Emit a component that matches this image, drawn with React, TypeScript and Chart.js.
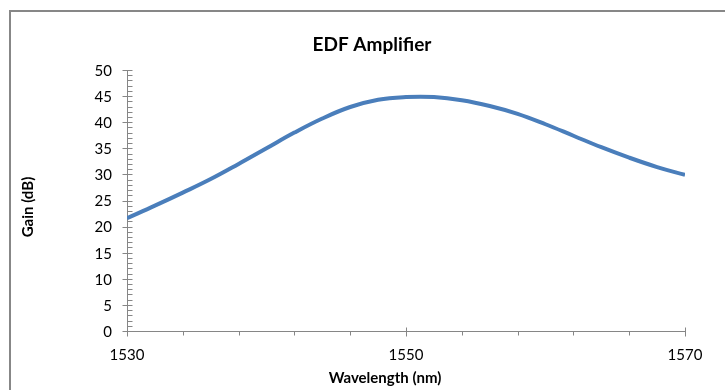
import React, { useEffect, useRef } from "react";
import { Chart, registerables } from "chart.js";

Chart.register(...registerables);

const wavelengths = [1530, 1532, 1534, 1536, 1538, 1540, 1542, 1544, 1546, 1548, 1550, 1552, 1554, 1556, 1558, 1560, 1562, 1564, 1566, 1568, 1570];
const gains = [21.8, 24.2, 26.7, 29.3, 32.2, 35.2, 38.2, 40.9, 43.1, 44.5, 45.0, 45.0, 44.4, 43.3, 41.8, 39.8, 37.6, 35.4, 33.4, 31.6, 30.1];

const xMin = 1530;
const xMax = 1570;
const xMajorStep = 20;
const xMinorStep = 4;
const yMin = 0;
const yMax = 50;
const yMajorStep = 5;
const yMinorStep = 1;

const chartTitle = "EDF Amplifier";
const xTitle = "Wavelength (nm)";
const yTitle = "Gain (dB)";

const FONT = "Lato, 'Open Sans', sans-serif";
const AXIS_COLOR = "#868686";

const decorPlugin = {
  id: "decor",
  beforeDraw(chart: any) {
    const ctx = chart.ctx;
    ctx.save();
    ctx.strokeStyle = "#878787";
    ctx.lineWidth = 2;
    ctx.beginPath();
    ctx.moveTo(10, chart.height + 5);
    ctx.lineTo(10, 11);
    ctx.lineTo(chart.width + 5, 11);
    ctx.stroke();

    ctx.fillStyle = "#000";
    ctx.textAlign = "center";
    ctx.textBaseline = "middle";
    ctx.font = `bold 19px ${FONT}`;
    ctx.fillText(chartTitle, 372, 45);
    ctx.font = `bold 15px ${FONT}`;
    ctx.fillText(xTitle, 385, 378);
    ctx.translate(28, 207);
    ctx.rotate(-Math.PI / 2);
    ctx.fillText(yTitle, 0, 0);
    ctx.restore();
  },
  beforeDatasetsDraw(chart: any) {
    const ctx = chart.ctx;
    const xs = chart.scales.x;
    const ys = chart.scales.y;
    const x0 = Math.round(xs.getPixelForValue(xMin)) + 0.5;
    const y0 = Math.round(ys.getPixelForValue(yMin)) - 0.5;
    ctx.save();
    ctx.strokeStyle = AXIS_COLOR;
    ctx.lineWidth = 1;
    ctx.beginPath();
    ctx.moveTo(x0, Math.round(ys.getPixelForValue(yMax)));
    ctx.lineTo(x0, y0);
    ctx.moveTo(x0, y0);
    ctx.lineTo(Math.round(xs.getPixelForValue(xMax)) + 0.5, y0);
    for (let v = yMin; v <= yMax; v += yMinorStep) {
      const py = Math.round(ys.getPixelForValue(v)) - 0.5;
      if (v % yMajorStep === 0) {
        ctx.moveTo(x0 - 5, py);
        ctx.lineTo(x0 + 5, py);
      } else {
        ctx.moveTo(x0, py);
        ctx.lineTo(x0 + 5, py);
      }
    }
    for (let v = xMin; v <= xMax; v += xMinorStep) {
      const px = Math.round(xs.getPixelForValue(v)) + 0.5;
      if ((v - xMin) % xMajorStep === 0) {
        ctx.moveTo(px, y0 - 4);
        ctx.lineTo(px, y0 + 5);
      } else {
        ctx.moveTo(px, y0);
        ctx.lineTo(px, y0 + 4);
      }
    }
    ctx.stroke();
    ctx.restore();
  },
};

export default function App() {
  const ref = useRef<HTMLCanvasElement | null>(null);

  useEffect(() => {
    document.body.style.margin = "0";
    const canvas = ref.current;
    if (!canvas) return;
    const chart = new Chart(canvas, {
      type: "line",
      data: {
        datasets: [
          {
            label: "Gain",
            data: wavelengths.map((w, i) => ({ x: w, y: gains[i] })),
            borderColor: "#4a7ebb",
            borderWidth: 4,
            pointRadius: 0,
            tension: 0.4,
            fill: false,
          },
        ],
      },
      options: {
        animation: false,
        responsive: false,
        maintainAspectRatio: false,
        layout: { padding: { top: 71, left: 0, right: 40, bottom: 0 } },
        plugins: {
          legend: { display: false },
          title: { display: false },
          tooltip: { enabled: false },
        },
        scales: {
          x: {
            type: "linear",
            min: xMin,
            max: xMax,
            afterFit: (s: any) => {
              s.height = 390 - 332;
            },
            grid: { display: false, drawTicks: false },
            border: { display: false },
            ticks: {
              stepSize: xMajorStep,
              padding: 14,
              color: "#000",
              font: { family: FONT, size: 15 },
              maxRotation: 0,
              callback: (v: any) => String(v),
            },
          },
          y: {
            min: yMin,
            max: yMax,
            afterFit: (s: any) => {
              s.width = 127;
            },
            grid: { display: false, drawTicks: false },
            border: { display: false },
            ticks: {
              stepSize: yMajorStep,
              padding: 15,
              color: "#000",
              font: { family: FONT, size: 15 },
            },
          },
        },
      },
      plugins: [decorPlugin],
    });
    return () => chart.destroy();
  }, []);

  return (
    <div style={{ width: 725, height: 390, background: "#fff" }}>
      <canvas ref={ref} width={725} height={390} style={{ display: "block" }} />
    </div>
  );
}
